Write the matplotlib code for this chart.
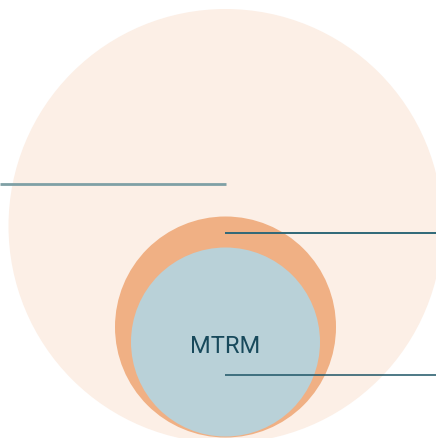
import matplotlib
matplotlib.use('Agg')
import matplotlib.pyplot as plt
from matplotlib.patches import Circle

# nested markets, radius in pixels
names = ["", "", "MTRM"]
radii = [217, 110.5, 94.5]
centers_y = [227, 328, 343]
colors = ['#fcefe6', '#f0b084', '#b9d1d8']

# leader lines: y position, x start, x end
line_y = [185, 234, 376]
line_x0 = [0, 225, 225]
line_x1 = [226, 436, 436]
line_colors = ['#7fa0a5', '#2f6878', '#1d5566']
line_widths = [2.0, 1.4, 1.1]

W, H = 436, 439
cx = 225.5

fig = plt.figure(figsize=(W / 100, H / 100), dpi=100)
ax = fig.add_axes([0, 0, 1, 1])
ax.set_xlim(0, W)
ax.set_ylim(H, 0)
ax.axis('off')

for r, cy, c in zip(radii, centers_y, colors):
    ax.add_patch(Circle((cx, cy), r, facecolor=c, edgecolor='none'))

for y, x0, x1, c, lw in zip(line_y, line_x0, line_x1, line_colors, line_widths):
    ax.plot([x0, x1], [y, y], color=c, lw=lw, solid_capstyle='butt')

ax.text(cx, 347, names[2], ha='center', va='center', fontsize=17,
        family='Roboto', color='#17495b')

fig.savefig('out.png', dpi=100)
